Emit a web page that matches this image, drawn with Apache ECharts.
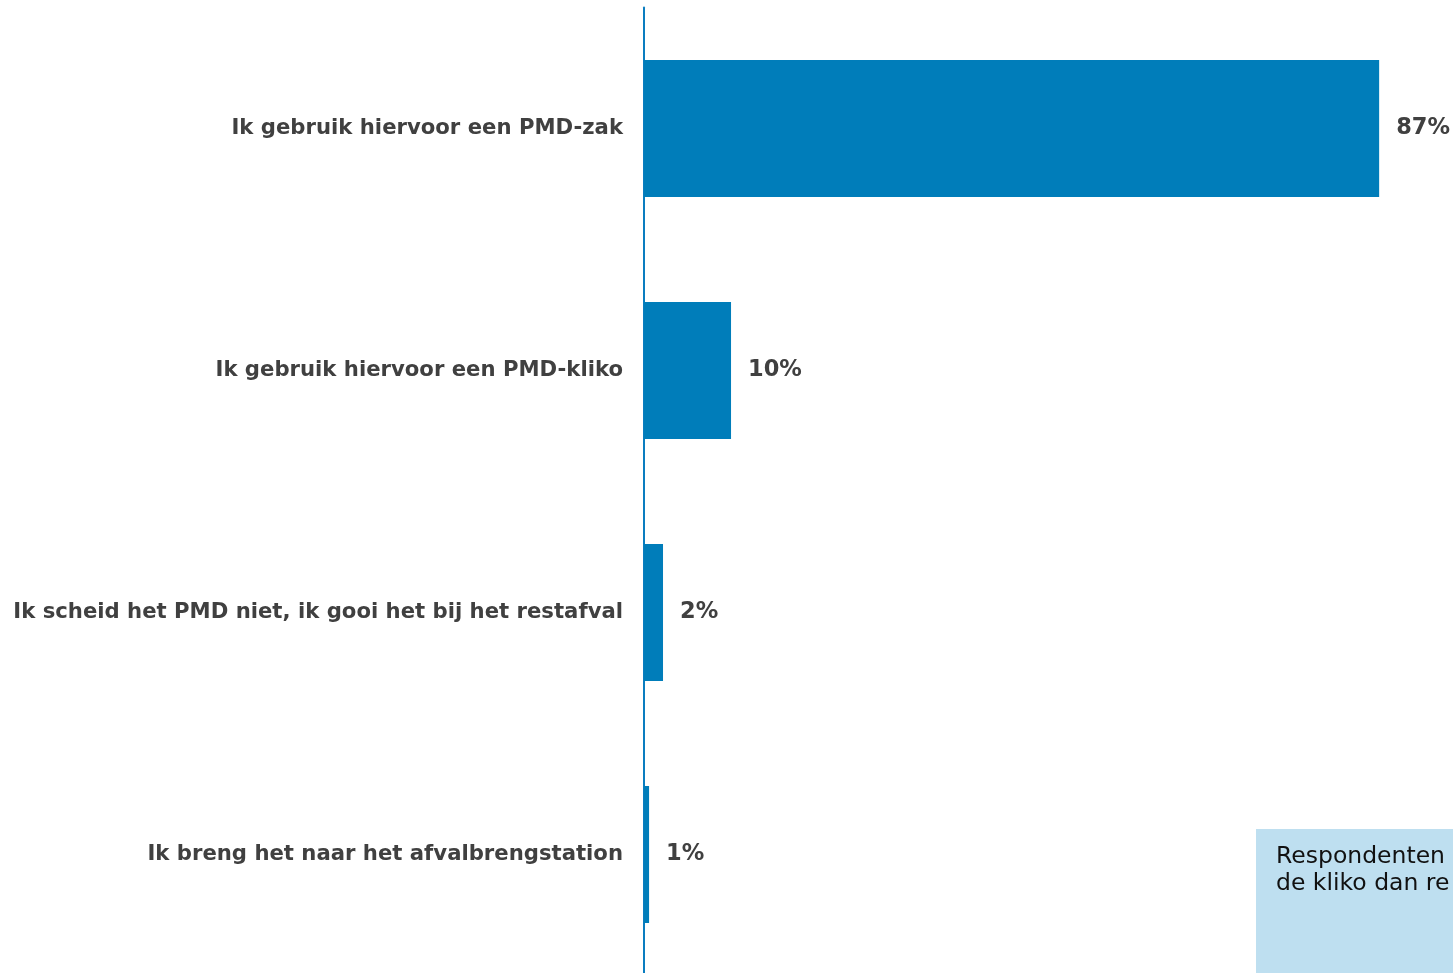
<!DOCTYPE html>
<html><head><meta charset="utf-8">
<script src="https://cdn.jsdelivr.net/npm/echarts@6/dist/echarts.min.js"></script>
<style>html,body{margin:0;padding:0;background:#fff;overflow:hidden;width:1453px;height:973px}#c{width:1600px;height:1050px}</style>
</head><body><div id="c"></div>
<script>
const categories = [
  "Ik gebruik hiervoor een PMD-zak",
  "Ik gebruik hiervoor een PMD-kliko",
  "Ik scheid het PMD niet, ik gooi het bij het restafval",
  "Ik breng het naar het afvalbrengstation"
];
const values = [87.0, 10.3, 2.25, 0.6];
const valueLabels = ["87%", "10%", "2%", "1%"];
const noteLines = ["Respondenten", "de kliko dan re"];

const chart = echarts.init(document.getElementById('c'));
chart.setOption({
  animation: false,
  grid: { left: 644, top: 7.5, width: 845, height: 968, containLabel: false },
  xAxis: { type: 'value', min: 0, max: 100, show: false },
  yAxis: {
    type: 'category', inverse: true, data: categories,
    axisLine: { show: true, lineStyle: { color: '#0a7dc0', width: 2 } },
    axisTick: { show: false },
    axisLabel: { margin: 21, color: '#404040', fontFamily: 'DejaVu Sans', fontWeight: 'bold', fontSize: 21.2 }
  },
  series: [{
    type: 'bar', data: values, barCategoryGap: '43.4%',
    itemStyle: { color: '#007dba' },
    label: {
      show: true, position: 'right', distance: 17,
      color: '#404040', fontFamily: 'DejaVu Sans', fontWeight: 'bold', fontSize: 22.5,
      formatter: p => valueLabels[p.dataIndex]
    }
  }],
  graphic: [
    { type: 'rect', shape: { x: 1256, y: 829, width: 260, height: 200 }, style: { fill: '#bedff0' } },
    { type: 'text', x: 1276, y: 843, style: { text: noteLines.join('\n'), fill: '#111', font: '23.5px "DejaVu Sans"', lineHeight: 27 } }
  ]
});
</script></body></html>
